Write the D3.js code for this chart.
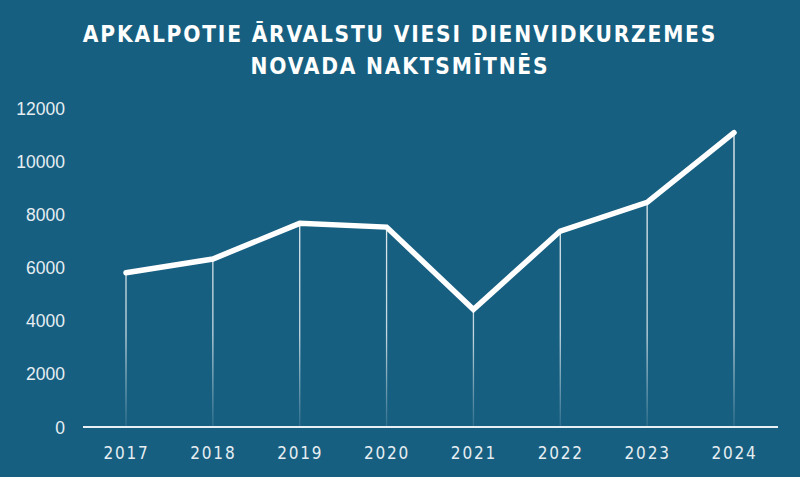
<!DOCTYPE html>
<html><head><meta charset="utf-8">
<script src="https://cdn.jsdelivr.net/npm/d3@7"></script>
<style>
html,body{margin:0;padding:0;background:#175f80;}
svg{display:block;}
</style></head>
<body>
<svg id="chart" width="800" height="477"></svg>
<script>
const titleLines = ["APKALPOTIE ĀRVALSTU VIESI DIENVIDKURZEMES", "NOVADA NAKTSMĪTNĒS"];
const years = ["2017","2018","2019","2020","2021","2022","2023","2024"];
const guests = [5800, 6320, 7660, 7520, 4420, 7370, 8450, 11070];
const yTicks = [0, 2000, 4000, 6000, 8000, 10000, 12000];

const W = 800, H = 477;
const svg = d3.select("#chart");
const bg = "#175f80";
svg.append("rect").attr("width", W).attr("height", H).attr("fill", bg);

const defs = svg.append("defs");
const grad = defs.append("linearGradient").attr("id","drop").attr("gradientUnits","userSpaceOnUse")
  .attr("x1",0).attr("x2",0).attr("y1",120).attr("y2",427);
grad.append("stop").attr("offset","0%").attr("stop-color","#ffffff").attr("stop-opacity",0.95);
grad.append("stop").attr("offset","70%").attr("stop-color","#ffffff").attr("stop-opacity",0.75);
grad.append("stop").attr("offset","100%").attr("stop-color","#ffffff").attr("stop-opacity",0.1);

const x = d3.scalePoint().domain(years).range([126, 734]);
const y = d3.scaleLinear().domain([0, 12000]).range([427, 108]);

// title
const title = svg.append("text").attr("text-anchor","middle")
  .attr("font-family","'DejaVu Sans Condensed', 'DejaVu Sans', sans-serif")
  .attr("font-weight","bold").attr("font-size",22.5).attr("fill","#ffffff")
  .attr("letter-spacing","1.8px");
titleLines.forEach((t,i)=>{
  title.append("tspan").attr("x",400).attr("y",42 + i*32).text(t);
});

// y axis labels
const yAxis = d3.axisLeft(y).tickValues(yTicks).tickSize(0).tickPadding(0).tickFormat(d3.format("d"));
const gy = svg.append("g").attr("transform","translate(65,0)").call(yAxis);
gy.select(".domain").remove();
gy.selectAll("text").attr("fill","#e6eef2").attr("font-size",17.5)
  .attr("font-family","'Liberation Sans', Arial, sans-serif").attr("dy","0.35em");

// x axis
const xAxis = d3.axisBottom(x).tickSize(0).tickPadding(0);
const gx = svg.append("g").attr("transform","translate(0,427)").call(xAxis);
gx.select(".domain").remove();
gx.selectAll("text").attr("fill","#e6eef2").attr("font-size",17)
  .attr("font-family","'DejaVu Sans Condensed', 'DejaVu Sans', sans-serif")
  .attr("letter-spacing","1.8px").attr("y",32).attr("dy",0);

// drop lines
svg.append("g").selectAll("line").data(years).join("line")
  .attr("x1", d=>x(d)).attr("x2", d=>x(d))
  .attr("y1", (d,i)=>y(guests[i])).attr("y2", y(0))
  .attr("stroke","url(#drop)").attr("stroke-width",1.3);

// baseline
svg.append("line").attr("x1",83).attr("x2",778).attr("y1",y(0)).attr("y2",y(0))
  .attr("stroke","#e8f0f4").attr("stroke-width",2);

// line
const line = d3.line().x((d,i)=>x(years[i])).y(d=>y(d));
svg.append("path").datum(guests).attr("d", line)
  .attr("fill","none").attr("stroke","#ffffff").attr("stroke-width",5.5)
  .attr("stroke-linejoin","miter").attr("stroke-linecap","round");
</script>
</body></html>
